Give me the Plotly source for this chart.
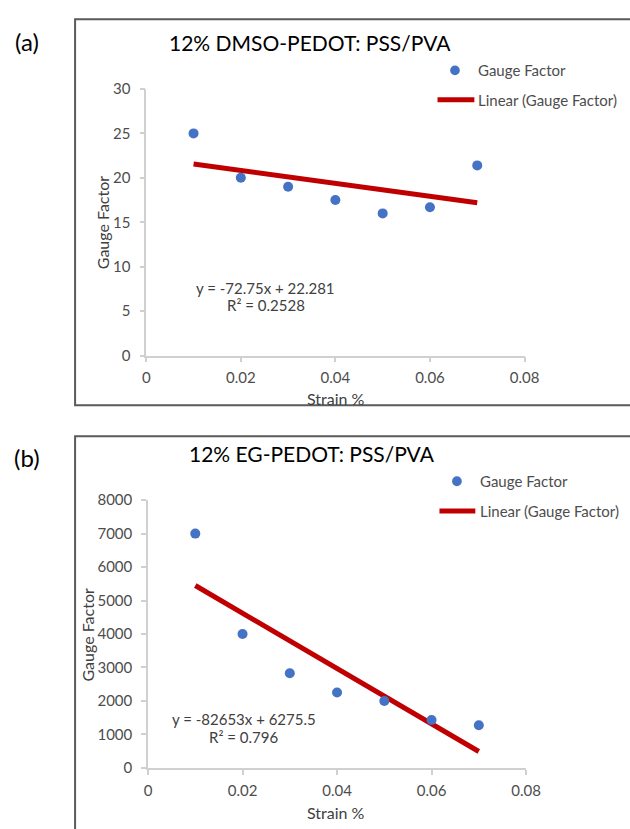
import plotly.graph_objects as go

# ---------------- data ----------------
strain = [0.01, 0.02, 0.03, 0.04, 0.05, 0.06, 0.07]
gf_dmso = [25, 20, 19, 17.5, 16, 16.7, 21.4]
gf_eg = [7000, 4000, 2830, 2250, 2000, 1430, 1275]

fit_dmso = (-72.75, 22.281)   # slope, intercept from chart label
fit_eg = (-82653, 6275.5)
r2_dmso = "0.2528"
r2_eg = "0.796"

titles = ["12% DMSO-PEDOT: PSS/PVA", "12% EG-PEDOT: PSS/PVA"]
panel_labels = ["(a)", "(b)"]
x_ticks = [0, 0.02, 0.04, 0.06, 0.08]
x_ticktext = ["0", "0.02", "0.04", "0.06", "0.08"]
y_ticks_a = [0, 5, 10, 15, 20, 25, 30]
y_ticks_b = [0, 1000, 2000, 3000, 4000, 5000, 6000, 7000, 8000]

# ---------------- styling ----------------
W, H = 630, 829
FONT = "Lato, 'Open Sans', sans-serif"
BLUE = "#4472C4"
RED = "#C00000"
AXC = "#D0D0D0"
TXT = "#4D4D4D"
TXT2 = "#404040"


def px(x):
    return x / W


def py(y):
    return 1 - y / H


fig = go.Figure()

fits = [fit_dmso, fit_eg]
series = [gf_dmso, gf_eg]
for i, (ys, (m, b)) in enumerate(zip(series, fits)):
    xa = "x" if i == 0 else "x2"
    ya = "y" if i == 0 else "y2"
    xs_fit = [strain[0], strain[-1]]
    fig.add_trace(go.Scatter(x=xs_fit, y=[m * v + b for v in xs_fit], mode="lines",
                             line=dict(color=RED, width=5), xaxis=xa, yaxis=ya,
                             showlegend=False, hoverinfo="skip"))
    fig.add_trace(go.Scatter(x=strain, y=ys, mode="markers",
                             marker=dict(color=BLUE, size=10), xaxis=xa, yaxis=ya,
                             showlegend=False, name="Gauge Factor"))

axis_common = dict(showgrid=False, zeroline=False, showline=True, linecolor=AXC,
                   linewidth=1.5, ticks="outside", ticklen=5, tickcolor=AXC, tickwidth=1.5,
                   tickfont=dict(family=FONT, size=15, color=TXT))

fig.update_layout(
    width=W, height=H, margin=dict(l=0, r=0, t=0, b=0),
    paper_bgcolor="white", plot_bgcolor="white",
    xaxis=dict(domain=[px(146.7), px(536.7)], range=[0, 0.08], tickvals=x_ticks,
               ticktext=x_ticktext, anchor="y", ticklabelstandoff=3, **axis_common),
    yaxis=dict(domain=[py(353.3), py(80.7)], range=[0, 30], tickvals=y_ticks_a,
               anchor="x", ticklabelstandoff=6, **axis_common),
    xaxis2=dict(domain=[px(148.5), px(538.3)], range=[0, 0.08], tickvals=x_ticks,
                ticktext=x_ticktext, anchor="y2", ticklabelstandoff=3, **axis_common),
    yaxis2=dict(domain=[py(774.7), py(501)], range=[0, 8000], tickvals=y_ticks_b,
                anchor="x2", ticklabelstandoff=6, **axis_common),
)

shapes = []
annotations = []

# panel frames
shapes.append(dict(type="rect", xref="paper", yref="paper", x0=px(73.3), x1=1.05,
                   y0=py(404), y1=py(9.5), line=dict(color="#5A5A5A", width=2)))
shapes.append(dict(type="rect", xref="paper", yref="paper", x0=px(73.3), x1=1.05,
                   y0=-0.05, y1=py(435.7), line=dict(color="#5A5A5A", width=2)))

panel_geo = [
    dict(label_y=32, title_x=316, title_y=33, leg_dot_y=61.7, leg_line_y=91.7,
         leg_dot_x=465, leg_line_x0=447, leg_line_x1=485, leg_text_x=487,
         xtitle_y=397, ytitle_x=101, ytitle_y=217, eq_x=270, eq_y=284, r2_y=302),
    dict(label_y=457, title_x=318, title_y=453, leg_dot_y=481.7, leg_line_y=512,
         leg_dot_x=467, leg_line_x0=449, leg_line_x1=486, leg_text_x=489,
         xtitle_y=820, ytitle_x=86, ytitle_y=638, eq_x=247, eq_y=725, r2_y=743),
]

r2s = [r2_dmso, r2_eg]
for i, g in enumerate(panel_geo):
    m, b = fits[i]
    annotations.append(dict(text=panel_labels[i], xref="paper", yref="paper", x=px(24), y=py(g["label_y"]),
                            showarrow=False, xanchor="center", yanchor="middle",
                            font=dict(family=FONT, size=24, color="#000000")))
    annotations.append(dict(text=titles[i], xref="paper", yref="paper", x=px(g["title_x"]), y=py(g["title_y"]),
                            showarrow=False, xanchor="center", yanchor="middle",
                            font=dict(family=FONT, size=21, color="#000000")))
    # legend
    shapes.append(dict(type="circle", xref="paper", yref="paper",
                       x0=px(g["leg_dot_x"] - 5), x1=px(g["leg_dot_x"] + 5),
                       y0=py(g["leg_dot_y"] + 5), y1=py(g["leg_dot_y"] - 5),
                       fillcolor=BLUE, line=dict(width=0)))
    shapes.append(dict(type="line", xref="paper", yref="paper",
                       x0=px(g["leg_line_x0"]), x1=px(g["leg_line_x1"]),
                       y0=py(g["leg_line_y"]), y1=py(g["leg_line_y"]),
                       line=dict(color=RED, width=5)))
    annotations.append(dict(text="Gauge Factor", xref="paper", yref="paper",
                            x=px(g["leg_text_x"]), y=py(g["leg_dot_y"]), showarrow=False,
                            xanchor="left", yanchor="middle",
                            font=dict(family=FONT, size=15, color=TXT)))
    annotations.append(dict(text="Linear (Gauge Factor)", xref="paper", yref="paper",
                            x=px(g["leg_text_x"]), y=py(g["leg_line_y"]), showarrow=False,
                            xanchor="left", yanchor="middle",
                            font=dict(family=FONT, size=15, color=TXT)))
    # axis titles
    annotations.append(dict(text="Strain %", xref="paper", yref="paper",
                            x=px(342), y=py(g["xtitle_y"]), showarrow=False,
                            xanchor="center", yanchor="middle",
                            font=dict(family=FONT, size=16, color=TXT2)))
    annotations.append(dict(text="Gauge Factor", xref="paper", yref="paper",
                            x=px(g["ytitle_x"]), y=py(g["ytitle_y"]), showarrow=False,
                            textangle=-90, xanchor="center", yanchor="middle",
                            font=dict(family=FONT, size=16, color=TXT2)))
    # equation
    sign = "+" if b >= 0 else "-"
    annotations.append(dict(text=f"y = {m:g}x {sign} {abs(b):g}", xref="paper", yref="paper",
                            x=px(g["eq_x"]), y=py(g["eq_y"]), showarrow=False,
                            xanchor="center", yanchor="middle",
                            font=dict(family=FONT, size=15, color=TXT2)))
    annotations.append(dict(text=f"R² = {r2s[i]}", xref="paper", yref="paper",
                            x=px(g["eq_x"]), y=py(g["r2_y"]), showarrow=False,
                            xanchor="center", yanchor="middle",
                            font=dict(family=FONT, size=15, color=TXT2)))

fig.update_layout(shapes=shapes, annotations=annotations)
fig.write_html(
    "out.html",
    config={"displayModeBar": False},
    post_script="document.body.style.margin='0';document.body.style.overflow='hidden';",
)
